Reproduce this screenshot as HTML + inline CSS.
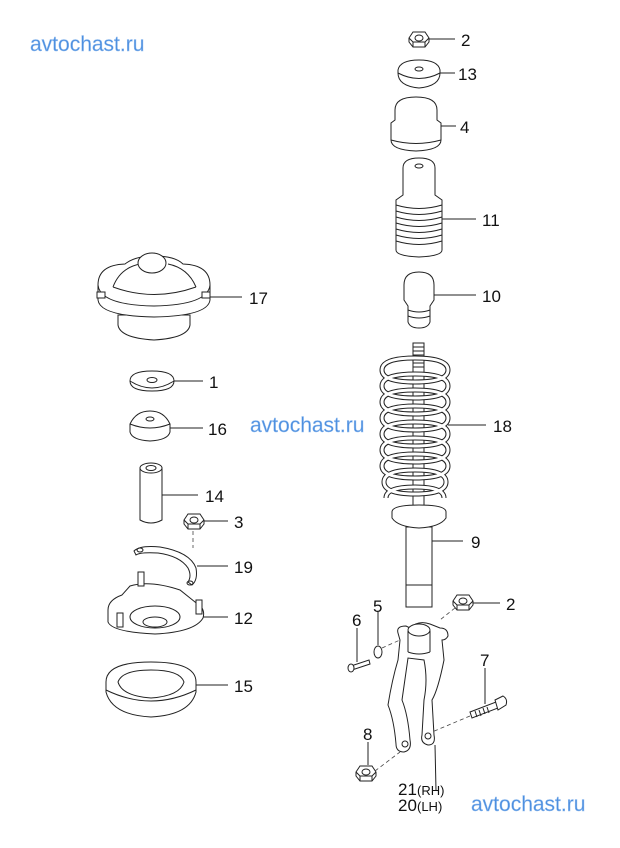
<!DOCTYPE html>
<html><head><meta charset="utf-8"><style>
html,body{margin:0;padding:0;background:#fff;width:620px;height:848px;overflow:hidden}
svg{display:block}
.l{fill:none;stroke:#222;stroke-width:1}
.w{fill:#fff;stroke:#222;stroke-width:1}
.t{font-family:"Liberation Sans",sans-serif;font-size:17px;fill:#111}
.s{font-family:"Liberation Sans",sans-serif;font-size:13px;fill:#111}
.wm{font-family:"Liberation Sans",sans-serif;font-size:21px;fill:#4d8fe0;stroke:#9cc3f0;stroke-width:0.4}
.d{fill:none;stroke:#444;stroke-width:0.8;stroke-dasharray:4 3}
.co{fill:none;stroke:#222;stroke-width:5}
.ci{fill:none;stroke:#fff;stroke-width:3}
</style></head><body>
<svg width="620" height="848" viewBox="0 0 620 848">
<defs>
<g id="nut"><path class="w" d="M-10,-1 L-6,-7 L6,-7 L10,-1 L10,3 L6,8 L-6,8 L-10,3 Z"/><path class="l" d="M-10,-1 L-6,3 L6,3 L10,-1 M-6,3 L-6,8 M6,3 L6,8"/><ellipse class="l" cx="0" cy="-1" rx="4" ry="3"/></g>
<path id="coil" d="M382,370 Q382,358 415,358 Q448,358 448,370 Q448,382 415,382 Q382,382 382,370
M382,386 Q382,374 415,374 Q448,374 448,386 Q448,398 415,398 Q382,398 382,386
M382,402 Q382,390 415,390 Q448,390 448,402 Q448,414 415,414 Q382,414 382,402
M382,418 Q382,406 415,406 Q448,406 448,418 Q448,430 415,430 Q382,430 382,418
M382,434 Q382,422 415,422 Q448,422 448,434 Q448,446 415,446 Q382,446 382,434
M382,450 Q382,438 415,438 Q448,438 448,450 Q448,462 415,462 Q382,462 382,450
M382,466 Q382,454 415,454 Q448,454 448,466 Q448,478 415,478 Q382,478 382,466
M384,482 Q384,470 415,470 Q446,470 446,482 Q446,494 415,494 Q384,494 384,482
M386,498 Q386,487 415,487 Q444,487 444,498"/>
</defs>
<text class="wm" x="30" y="51">avtochast.ru</text>
<text class="wm" x="250" y="432">avtochast.ru</text>
<text class="wm" x="471" y="811">avtochast.ru</text>

<use href="#nut" x="419" y="39"/>
<line class="l" x1="429" y1="39" x2="455" y2="39"/><text class="t" x="461" y="46">2</text>
<!-- 13 -->
<path class="w" d="M398,73 Q398,86 419,88 Q440,86 440,73 L440,70 Q438,60 419,60 Q400,60 398,70 Z"/>
<path class="l" d="M398,73 Q419,84 440,73"/><ellipse class="l" cx="419" cy="69" rx="4" ry="2"/>
<line class="l" x1="440" y1="73" x2="455" y2="73"/><text class="t" x="458" y="80">13</text>
<!-- 4 -->
<path class="w" d="M395,110 Q395,97 416,97 Q437,97 437,110 L437,120 L441,123 L441,140 Q441,150 416,151 Q391,150 391,140 L391,123 L395,120 Z"/>
<path class="l" d="M391,140 Q416,147 441,140"/>
<line class="l" x1="441" y1="126" x2="456" y2="126"/><text class="t" x="460" y="133">4</text>
<!-- 11 -->
<path class="w" d="M403,168 Q403,158 419,158 Q435,158 435,168 L435,195 L442,200 L442,250 Q442,256 419,257 Q396,256 396,250 L396,200 L403,195 Z"/>
<ellipse class="l" cx="419" cy="166" rx="4" ry="2"/>
<path class="l" d="M396,205 Q419,212 442,205 M396,211 Q419,218 442,211 M396,217 Q419,224 442,217 M396,223 Q419,230 442,223 M396,229 Q419,236 442,229 M396,235 Q419,242 442,235 M396,241 Q419,248 442,241"/>
<line class="l" x1="442" y1="219" x2="476" y2="219"/><text class="t" x="482" y="226">11</text>
<!-- 10 -->
<path class="w" d="M404,285 Q404,272 419,272 Q434,272 434,285 L434,300 L430,306 L430,322 Q428,328 419,328 Q410,328 408,322 L408,306 L404,300 Z"/>
<path class="l" d="M408,310 Q419,314 430,310 M408,316 Q419,320 430,316"/>
<line class="l" x1="434" y1="295" x2="476" y2="295"/><text class="t" x="482" y="302">10</text>
<!-- 18 spring + 9 strut -->
<rect class="w" x="406" y="527" width="26" height="80"/>
<line class="l" x1="406" y1="585" x2="432" y2="585"/>
<rect class="l" x="413" y="343" width="11" height="30"/>
<path class="l" d="M413,347 H424 M413,351 H424 M413,355 H424 M413,359 H424 M413,363 H424 M413,367 H424"/>
<line class="l" x1="413" y1="373" x2="413" y2="510"/><line class="l" x1="424" y1="373" x2="424" y2="510"/>
<path class="w" d="M392,512 Q392,505 419,505 Q446,505 446,512 L446,518 Q440,527 419,528 Q398,527 392,518 Z"/>
<use href="#coil" class="co"/><use href="#coil" class="ci"/>
<line class="l" x1="448" y1="425" x2="486" y2="425"/><text class="t" x="493" y="432">18</text>
<line class="l" x1="432" y1="541" x2="463" y2="541"/><text class="t" x="471" y="548">9</text>
<use href="#nut" x="463" y="602"/>
<line class="l" x1="473" y1="603" x2="500" y2="603"/><text class="t" x="506" y="610">2</text>
<line class="d" x1="455" y1="608" x2="440" y2="620"/>
<!-- knuckle -->
<path class="w" d="M398,633 Q396,626 406,626 L410,628 Q418,620 430,624 L440,628 Q448,628 448,636 Q446,640 442,640 L444,660 Q438,690 432,700 L434,735 Q436,745 428,745 Q420,743 422,735 L424,700 Q428,680 424,660 L408,658 L402,700 Q408,715 410,740 Q412,750 404,752 Q396,752 396,744 Q394,720 388,705 Q392,680 398,660 L400,640 Z"/>
<ellipse class="w" cx="419" cy="630" rx="11" ry="6"/>
<line class="l" x1="408" y1="631" x2="408" y2="652"/><line class="l" x1="430" y1="631" x2="430" y2="652"/>
<path class="l" d="M408,652 Q419,656 430,652"/>
<ellipse class="l" cx="428" cy="736" rx="3" ry="3"/><ellipse class="l" cx="405" cy="744" rx="3" ry="3"/>
<line class="l" x1="435" y1="745" x2="436" y2="790"/>
<text class="t" x="398" y="795">21</text><text class="s" x="417" y="795">(RH)</text>
<text class="t" x="398" y="811">20</text><text class="s" x="417" y="811">(LH)</text>
<ellipse class="w" cx="378" cy="652" rx="4" ry="6"/>
<line class="l" x1="378" y1="612" x2="378" y2="645"/><text class="t" x="373" y="612">5</text>
<line class="d" x1="382" y1="648" x2="400" y2="640"/>
<path class="w" d="M351,666 L369,660 L370,664 L352,670 Z"/><ellipse class="w" cx="351" cy="668" rx="3" ry="4"/>
<line class="l" x1="357" y1="628" x2="357" y2="662"/><text class="t" x="352" y="626">6</text>
<path class="w" d="M470,712 L496,702 L498,708 L472,718 Z"/>
<path class="w" d="M495,700 L503,696 Q508,699 506,705 L498,710 Z"/>
<path class="l" d="M475,711 l2,6 M479,710 l2,6 M483,708 l2,6 M487,707 l2,6"/>
<line class="l" x1="485" y1="668" x2="485" y2="704"/><text class="t" x="480" y="666">7</text>
<line class="d" x1="470" y1="716" x2="432" y2="732"/>
<use href="#nut" x="366" y="773"/>
<line class="l" x1="368" y1="742" x2="368" y2="765"/><text class="t" x="363" y="740">8</text>
<line class="d" x1="375" y1="771" x2="400" y2="752"/>

<!-- 17 -->
<path class="w" d="M118,315 L118,325 Q120,338 154,340 Q188,338 190,325 L190,315 Z"/>
<path class="w" d="M98,285 Q98,265 125,264 Q135,256 154,256 Q175,256 183,264 Q210,265 210,285 L210,300 Q208,316 154,317 Q100,316 98,300 Z"/>
<path class="l" d="M98,285 Q100,305 154,306 Q208,305 210,285"/>
<path class="l" d="M113,287 Q120,268 140,264 M196,287 Q188,268 168,264 M113,287 Q154,302 196,287"/>
<ellipse class="w" cx="152" cy="263" rx="14" ry="10"/>
<rect class="w" x="97" y="292" width="8" height="6"/><rect class="w" x="202" y="292" width="8" height="6"/>
<line class="l" x1="210" y1="297" x2="242" y2="297"/><text class="t" x="249" y="304">17</text>
<!-- 1 -->
<path class="w" d="M130,381 Q130,371 152,371 Q174,371 174,381 Q174,391 152,391 Q130,391 130,381 Z"/>
<path class="l" d="M130,381 Q152,395 174,381"/><ellipse class="l" cx="152" cy="380" rx="5" ry="2.5"/>
<line class="l" x1="174" y1="381" x2="203" y2="381"/><text class="t" x="209" y="388">1</text>
<!-- 16 -->
<path class="w" d="M130,424 Q136,411 150,411 Q164,411 170,424 L170,432 Q168,440 150,441 Q132,440 130,432 Z"/>
<path class="l" d="M130,424 Q150,432 170,424"/><ellipse class="l" cx="150" cy="419" rx="4" ry="2"/>
<line class="l" x1="170" y1="428" x2="203" y2="428"/><text class="t" x="208" y="435">16</text>
<!-- 14 -->
<path class="w" d="M140,468 L140,520 Q151,526 162,520 L162,468 Z"/>
<ellipse class="w" cx="151" cy="468" rx="11" ry="5"/><ellipse class="l" cx="151" cy="468" rx="5" ry="2.5"/>
<line class="l" x1="162" y1="495" x2="198" y2="495"/><text class="t" x="205" y="502">14</text>
<use href="#nut" x="194" y="521"/>
<line class="l" x1="204" y1="521" x2="228" y2="521"/><text class="t" x="234" y="528">3</text>
<line class="d" x1="193" y1="531" x2="193" y2="548"/>
<!-- 19 -->
<path class="l" d="M134,551 Q140,545 160,547 Q190,552 196,568 Q198,580 192,585 L188,582 Q192,576 188,568 Q180,556 158,553 Q140,552 136,555 Z"/>
<ellipse class="l" cx="140" cy="550" rx="3" ry="2"/><ellipse class="l" cx="190" cy="583" rx="3" ry="2"/>
<line class="l" x1="197" y1="566" x2="228" y2="566"/><text class="t" x="234" y="573">19</text>
<!-- 12 -->
<path class="w" d="M108,610 Q108,600 122,595 L130,586 Q150,580 180,590 L195,602 Q206,608 203,618 Q195,632 155,634 Q112,632 108,622 Z"/>
<ellipse class="w" cx="155" cy="617" rx="25" ry="11"/>
<ellipse class="l" cx="155" cy="622" rx="12" ry="5"/>
<rect class="w" x="138" y="572" width="6" height="14"/><rect class="w" x="196" y="600" width="6" height="14"/><rect class="w" x="117" y="613" width="6" height="14"/>
<line class="l" x1="203" y1="617" x2="228" y2="617"/><text class="t" x="234" y="624">12</text>
<!-- 15 -->
<path class="w" d="M106,682 Q106,662 151,662 Q196,662 196,682 L196,692 Q190,715 151,717 Q112,715 106,692 Z"/>
<path class="l" d="M106,690 Q151,712 196,690"/>
<path class="l" d="M118,682 Q122,670 151,670 Q180,670 184,682 Q180,696 151,698 Q122,696 118,682 Z"/>
<line class="l" x1="196" y1="685" x2="228" y2="685"/><text class="t" x="234" y="692">15</text>
</svg>
</body></html>
